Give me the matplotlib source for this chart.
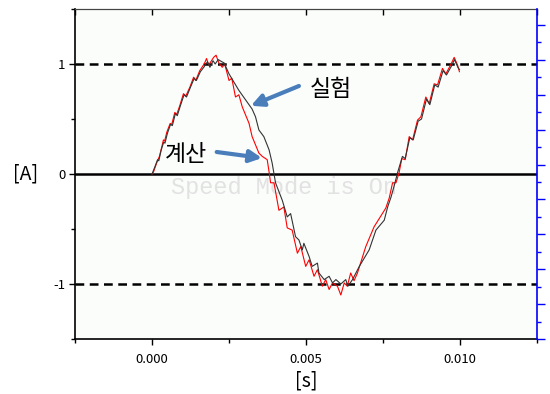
import numpy as np
import matplotlib.pyplot as plt
from matplotlib.ticker import MultipleLocator, NullFormatter

plt.rcParams['font.family'] = ['Noto Sans CJK KR', 'DejaVu Sans']

# 계산 (red) - time in ms, current in A
calc_t = [0.00, 0.05, 0.15, 0.24, 0.32, 0.37, 0.41, 0.48, 0.59, 0.64, 0.74, 0.80,
          0.90, 1.02, 1.10, 1.23, 1.35, 1.42, 1.55, 1.67, 1.71, 1.77, 1.84, 2.00,
          2.08, 2.17, 2.28, 2.36, 2.50, 2.59, 2.71, 2.82, 2.93, 3.15, 3.25, 3.47,
          3.58, 3.74, 3.80, 3.85, 3.96, 4.12, 4.28, 4.39, 4.55, 4.72, 4.83, 4.99,
          5.10, 5.26, 5.37, 5.53, 5.64, 5.75, 5.86, 6.02, 6.13, 6.24, 6.34, 6.45,
          6.56, 6.67, 6.94, 7.21, 7.59, 7.70, 7.81, 7.92, 8.02, 8.11, 8.22, 8.35,
          8.46, 8.62, 8.73, 8.89, 9.00, 9.16, 9.27, 9.43, 9.54, 9.71, 9.81, 9.92,
          9.98]
calc_i = [0.00, 0.02, 0.10, 0.16, 0.25, 0.31, 0.30, 0.38, 0.46, 0.45, 0.56, 0.54,
          0.62, 0.73, 0.71, 0.79, 0.88, 0.85, 0.94, 0.99, 1.01, 1.05, 0.99, 1.06,
          1.08, 1.01, 0.97, 1.00, 0.85, 0.87, 0.70, 0.72, 0.61, 0.46, 0.34, 0.19,
          0.16, 0.13, 0.02, -0.08, -0.08, -0.33, -0.30, -0.49, -0.51, -0.72, -0.66, -0.84,
          -0.78, -0.93, -0.87, -1.02, -0.96, -1.05, -0.99, -1.02, -1.10, -0.99, -1.02, -0.90,
          -0.97, -0.90, -0.66, -0.48, -0.31, -0.22, -0.08, -0.08, 0.01, 0.14, 0.13, 0.34,
          0.31, 0.49, 0.52, 0.70, 0.64, 0.82, 0.81, 0.96, 0.91, 1.00, 1.06, 0.99,
          0.93]

# 실험 (black)
meas_t = [0.00, 0.10, 0.18, 0.22, 0.30, 0.38, 0.42, 0.50, 0.60, 0.66, 0.76, 0.82,
          0.92, 1.04, 1.12, 1.25, 1.37, 1.44, 1.57, 1.68, 1.80, 1.88, 1.98, 2.05,
          2.15, 2.27, 2.34, 2.50, 2.82, 3.25, 3.36, 3.47, 3.63, 3.80, 3.90, 4.01,
          4.23, 4.39, 4.50, 4.66, 4.77, 4.88, 4.93, 5.10, 5.20, 5.37, 5.42, 5.59,
          5.75, 5.86, 5.97, 6.13, 6.29, 6.36, 6.51, 6.73, 7.05, 7.27, 7.54, 7.65,
          7.76, 7.86, 7.97, 8.13, 8.22, 8.37, 8.48, 8.64, 8.75, 8.91, 9.02, 9.18,
          9.29, 9.45, 9.56, 9.72, 9.82, 9.93, 9.98]
meas_i = [0.00, 0.07, 0.13, 0.12, 0.22, 0.29, 0.28, 0.37, 0.45, 0.44, 0.55, 0.53,
          0.62, 0.72, 0.70, 0.79, 0.87, 0.85, 0.93, 0.97, 1.02, 0.97, 1.03, 1.00,
          1.04, 1.02, 1.01, 0.91, 0.76, 0.59, 0.52, 0.40, 0.34, 0.22, 0.10, -0.08,
          -0.24, -0.39, -0.36, -0.57, -0.60, -0.69, -0.63, -0.75, -0.84, -0.81, -0.90, -0.96,
          -0.93, -0.99, -0.96, -1.00, -0.96, -1.02, -0.96, -0.84, -0.69, -0.51, -0.42, -0.30,
          -0.21, -0.11, 0.01, 0.16, 0.14, 0.33, 0.31, 0.48, 0.50, 0.68, 0.63, 0.81,
          0.79, 0.94, 0.90, 0.98, 1.04, 0.97, 0.95]

fig = plt.figure(figsize=(5.5, 3.94), dpi=100)
ax = fig.add_axes([0.1364, 0.1396, 0.84, 0.8376])
ax.set_facecolor('#fbfdfb')

ax.axhline(0, color='black', lw=1.8, zorder=1)
ax.axhline(1, color='black', lw=1.8, ls=(0, (3.5, 2.2)), zorder=1)
ax.axhline(-1, color='black', lw=1.8, ls=(0, (3.5, 2.2)), zorder=1)

ax.plot(np.array(meas_t) / 1000, meas_i, color='#333333', lw=0.8, zorder=3)
ax.plot(np.array(calc_t) / 1000, calc_i, color='red', lw=0.8, zorder=2)

ax.text(0.00428, -0.12, 'Speed Mode is On', family='Liberation Mono', fontsize=17,
        color='#e2e2e2', ha='center', va='center', zorder=0)

arrow = dict(arrowstyle='-|>', lw=3, mutation_scale=18, color='#4a7ebb', shrinkA=0, shrinkB=0)
ax.annotate('', xy=(0.00321, 0.62), xytext=(0.00477, 0.80), arrowprops=arrow)
ax.annotate('', xy=(0.00357, 0.145), xytext=(0.00210, 0.20), arrowprops=arrow)
ax.text(0.00580, 0.77, '실험', fontsize=16.5, ha='center', va='center')
ax.text(0.00110, 0.18, '계산', fontsize=16.5, ha='center', va='center')

ax.set_xlim(-0.0025, 0.0125)
ax.set_ylim(-1.5, 1.5)
ax.set_xticks([0.0, 0.005, 0.010])
ax.set_xticklabels(['0.000', '0.005', '0.010'])
ax.xaxis.set_minor_locator(MultipleLocator(0.0025))
ax.set_yticks([-1, 0, 1])
ax.set_yticklabels(['-1', '0', '1'])
ax.yaxis.set_minor_locator(MultipleLocator(0.5))
ax.tick_params(axis='both', labelsize=9.5, length=4, width=1)
ax.tick_params(axis='x', pad=6)
ax.tick_params(axis='y', pad=3)
ax.tick_params(axis='both', which='minor', length=3, width=1)
ax.set_xlabel('[s]', fontsize=14, labelpad=3)
ax.set_ylabel('[A]', fontsize=14, rotation=0, va='center', labelpad=20)

for s in ['left', 'bottom']:
    ax.spines[s].set_linewidth(1.2)
ax.spines['top'].set_color('#444444')
ax.spines['right'].set_visible(False)

# inward ticks along the top edge
top = ax.secondary_xaxis('top')
top.set_xticks([0.0, 0.005, 0.010])
top.xaxis.set_minor_locator(MultipleLocator(0.0025))
top.xaxis.set_major_formatter(NullFormatter())
top.tick_params(axis='x', which='both', direction='in', length=4, width=1)
top.spines['top'].set_color('#444444')

ax2 = ax.twinx()
ax2.set_ylim(0, 9.46)
ax2.yaxis.set_major_locator(MultipleLocator(1))
ax2.yaxis.set_minor_locator(MultipleLocator(0.5))
ax2.yaxis.set_major_formatter(NullFormatter())
ax2.spines['right'].set_color('blue')
ax2.spines['right'].set_linewidth(1.2)
for s in ['left', 'top', 'bottom']:
    ax2.spines[s].set_visible(False)
ax2.tick_params(axis='y', colors='blue', length=6, width=1)
ax2.tick_params(axis='y', which='minor', colors='blue', length=3, width=1)

fig.savefig('out.png', dpi=100)
